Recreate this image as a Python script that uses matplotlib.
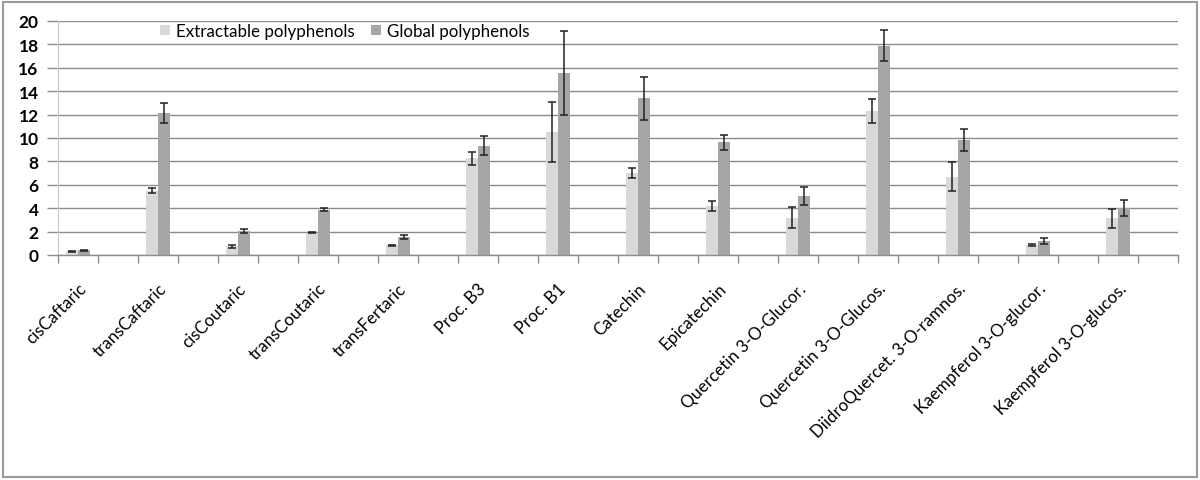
import numpy as np
import matplotlib
matplotlib.use('Agg')
import matplotlib.pyplot as plt
from matplotlib.patches import Rectangle

plt.rcParams['font.family'] = ['Lato', 'DejaVu Sans']

# Data
categories = ['cisCaftaric', 'transCaftaric', 'cisCoutaric', 'transCoutaric',
              'transFertaric', 'Proc. B3', 'Proc. B1', 'Catechin', 'Epicatechin',
              'Quercetin 3-O-Glucor.', 'Quercetin 3-O-Glucos.',
              'DiidroQuercet. 3-O-ramnos.', 'Kaempferol 3-O-glucor.',
              'Kaempferol 3-O-glucos.']
extractable = [0.3, 5.5, 0.75, 1.9, 0.82, 8.25, 10.5, 7.0, 4.2, 3.2, 12.3, 6.7, 0.83, 3.15]
extractable_err = [0.05, 0.2, 0.12, 0.04, 0.05, 0.57, 2.55, 0.44, 0.44, 0.9, 1.04, 1.22, 0.1, 0.8]
global_vals = [0.4, 12.1, 2.05, 3.87, 1.52, 9.35, 15.55, 13.4, 9.62, 5.04, 17.9, 9.8, 1.17, 3.98]
global_err = [0.06, 0.85, 0.15, 0.15, 0.17, 0.83, 3.6, 1.83, 0.67, 0.73, 1.3, 0.95, 0.27, 0.68]

ext_color = '#d9d9d9'
glob_color = '#a6a6a6'
grid_color = '#8c8c8c'

fig = plt.figure(figsize=(12, 4.81), dpi=100)
ax = fig.add_axes([58 / 1200, 225 / 481, 1120 / 1200, 234 / 481])

# every category is followed by an empty slot, like the original sheet
x = np.arange(len(categories)) * 2
w = 0.29
ekw = dict(ecolor='#222222', elinewidth=1.1, capsize=3.2, capthick=1.1)
ax.bar(x - w / 2, extractable, w, color=ext_color, yerr=extractable_err,
       error_kw=ekw, label='Extractable polyphenols', zorder=3)
ax.bar(x + w / 2, global_vals, w, color=glob_color, yerr=global_err,
       error_kw=ekw, label='Global polyphenols', zorder=3)

ax.set_xlim(-0.5, 2 * len(categories) - 0.5)
ax.set_ylim(0, 20)
ax.set_yticks(np.arange(0, 21, 2))
ax.yaxis.grid(True, color=grid_color, linewidth=1.0, zorder=0)
ax.tick_params(axis='y', length=8, color=grid_color, width=1.0, pad=6,
               labelsize=12.5)
for lbl in ax.get_yticklabels():
    lbl.set_fontweight('bold')

# tick marks on the slot boundaries, labels at the category centres
ax.set_xticks(np.arange(-0.5, 2 * len(categories)), minor=False)
ax.set_xticklabels([])
ax.tick_params(axis='x', which='major', length=6, color=grid_color, width=1.0)
ax.set_xticks(x, minor=True)
ax.set_xticklabels(categories, minor=True, rotation=45, ha='right', va='top',
                   rotation_mode='anchor', fontsize=12.2)
ax.tick_params(axis='x', which='minor', length=0, pad=18)

for side in ['top', 'right']:
    ax.spines[side].set_visible(False)
ax.spines['bottom'].set_color(grid_color)
ax.spines['bottom'].set_linewidth(1.0)
ax.spines['bottom'].set_zorder(4)
ax.spines['left'].set_color('#c8c8c8')
ax.spines['left'].set_linewidth(0.8)

leg = ax.legend(loc='center left', bbox_to_anchor=(152 / 1200, 1 - 32 / 481),
                bbox_transform=fig.transFigure, ncol=2, frameon=False,
                handlelength=0.55, handleheight=0.55, handletextpad=0.35,
                columnspacing=1.0, borderpad=0, fontsize=12.2)

# grey frame around the whole chart
fig.patches.append(Rectangle((3 / 1200, 3 / 481), 1194 / 1200, 475 / 481,
                             transform=fig.transFigure, fill=False,
                             edgecolor='#9a9a9a', linewidth=1.5))

fig.savefig('out.png', dpi=100)
